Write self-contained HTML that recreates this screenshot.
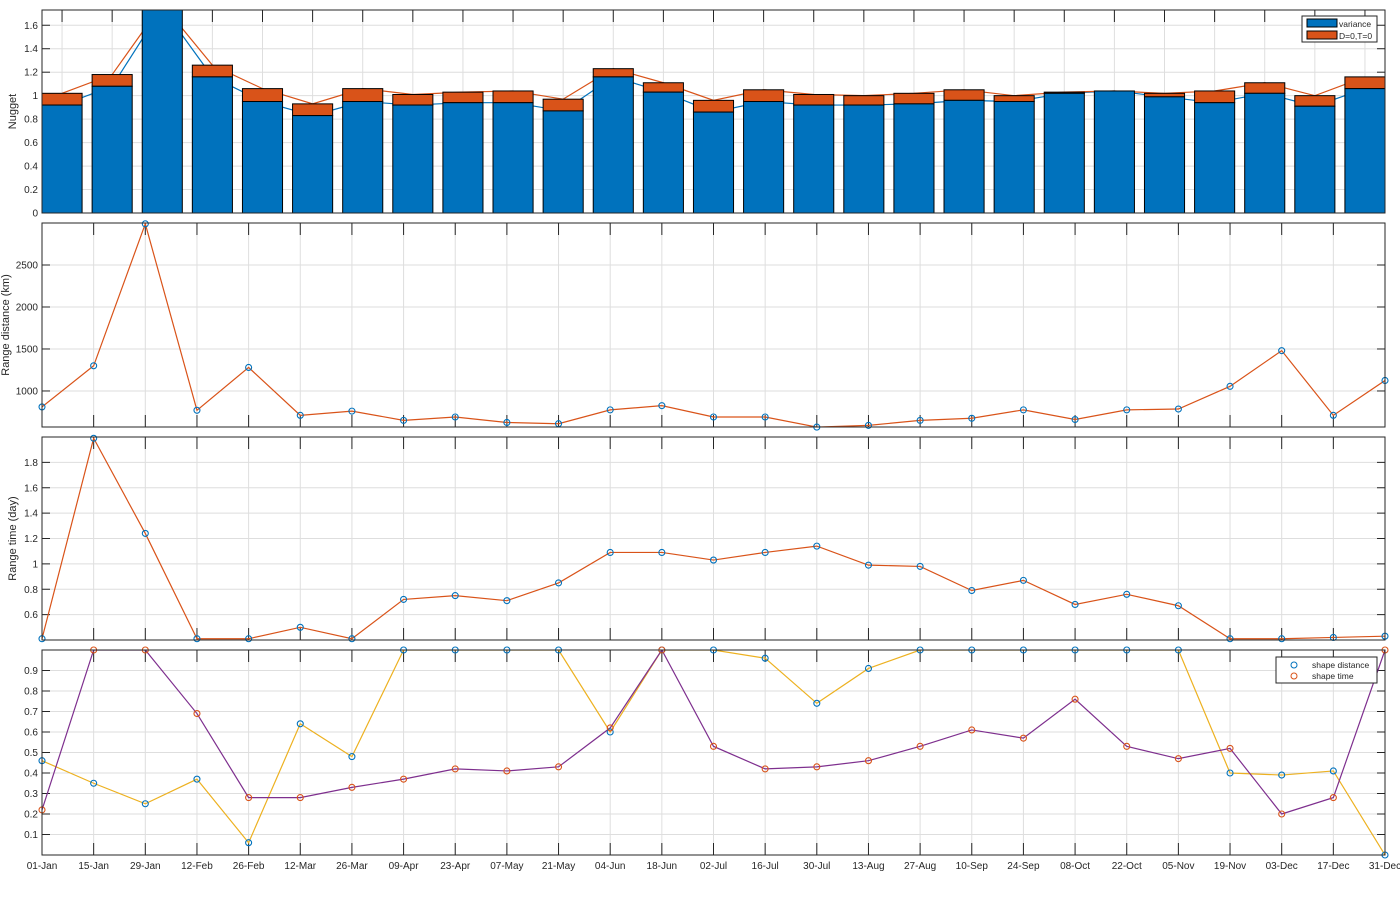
<!DOCTYPE html>
<html><head><meta charset="utf-8"><style>
body{margin:0;background:#fff;}
svg{display:block;font-family:"Liberation Sans",Arial,sans-serif;}
</style></head><body>
<svg id="c" width="1400" height="900" viewBox="0 0 1400 900" xmlns="http://www.w3.org/2000/svg"></svg>
<script>
const dates=["01-Jan","15-Jan","29-Jan","12-Feb","26-Feb","12-Mar","26-Mar","09-Apr","23-Apr","07-May","21-May","04-Jun","18-Jun","02-Jul","16-Jul","30-Jul","13-Aug","27-Aug","10-Sep","24-Sep","08-Oct","22-Oct","05-Nov","19-Nov","03-Dec","17-Dec","31-Dec"];
const variance=[0.92,1.08,1.75,1.16,0.95,0.83,0.95,0.92,0.94,0.94,0.87,1.16,1.03,0.86,0.95,0.92,0.92,0.93,0.96,0.95,1.02,1.04,0.99,0.94,1.02,0.91,1.06];
const nuggetTotal=[1.02,1.18,1.78,1.26,1.06,0.93,1.06,1.01,1.03,1.04,0.97,1.23,1.11,0.96,1.05,1.01,1.00,1.02,1.05,1.00,1.03,1.04,1.02,1.04,1.11,1.00,1.16];
const rangeDist=[810,1300,2990,770,1280,710,760,650,690,625,610,775,825,690,690,570,590,650,675,775,660,775,785,1055,1480,710,1125];
const rangeTime=[0.41,1.99,1.24,0.41,0.41,0.50,0.41,0.72,0.75,0.71,0.85,1.09,1.09,1.03,1.09,1.14,0.99,0.98,0.79,0.87,0.68,0.76,0.67,0.41,0.41,0.42,0.43];
const shapeDist=[0.46,0.35,0.25,0.37,0.06,0.64,0.48,1,1,1,1,0.60,1,1,0.96,0.74,0.91,1,1,1,1,1,1,0.40,0.39,0.41,0.0];
const shapeTime=[0.22,1,1,0.69,0.28,0.28,0.33,0.37,0.42,0.41,0.43,0.62,1,0.53,0.42,0.43,0.46,0.53,0.61,0.57,0.76,0.53,0.47,0.52,0.20,0.28,1];
const nugTicks=[0,0.2,0.4,0.6,0.8,1,1.2,1.4,1.6];
const distTicks=[1000,1500,2000,2500];
const timeTicks=[0.6,0.8,1,1.2,1.4,1.6,1.8];
const shapeTicks=[0.1,0.2,0.3,0.4,0.5,0.6,0.7,0.8,0.9];

const svg=document.getElementById('c');const NS="http://www.w3.org/2000/svg";
function mk(t,a,p){const e=document.createElementNS(NS,t);for(const k in a)e.setAttribute(k,a[k]);(p||svg).appendChild(e);return e;}
const L=42,R=1385;
const panels=[{t:10,b:213,y0:0,y1:1.73,tx:16},{t:223,b:427,y0:571,y1:3000,tx:9},{t:437,b:640,y0:0.4,y1:2.0,tx:16},{t:650,b:855,y0:0,y1:1.0,tx:16}];
const xd=i=>L+i*(R-L)/26;
const xb=i=>L+(i+1-0.6)*(R-L)/26.8;
function ys(p){return v=>p.b-(v-p.y0)/(p.y1-p.y0)*(p.b-p.t);}
function frame(p,ticks,fmt,xfun,label,name){
  const g=mk('g',{});
  const y=ys(p);
  const clipId='cl'+p.t;const cp=mk('clipPath',{id:clipId});mk('rect',{x:L,y:p.t,width:R-L,height:p.b-p.t},cp);
  for(let i=0;i<27;i++){const x=xfun(i);mk('line',{x1:x,x2:x,y1:p.t,y2:p.b,stroke:'#dedede','stroke-width':1},g);}
  ticks.forEach(v=>{const yy=y(v);mk('line',{x1:L,x2:R,y1:yy,y2:yy,stroke:'#dedede'},g);
    const t=mk('text',{x:L-4,y:yy+3.5,'text-anchor':'end','font-size':10,fill:'#262626'},g);t.textContent=fmt(v);
    mk('line',{x1:L,x2:L+8,y1:yy,y2:yy,stroke:'#262626'},g);mk('line',{x1:R-8,x2:R,y1:yy,y2:yy,stroke:'#262626'},g);});
  for(let i=0;i<27;i++){const x=xfun(i);mk('line',{x1:x,x2:x,y1:p.t,y2:p.t+12,stroke:'#262626'},g);mk('line',{x1:x,x2:x,y1:p.b-12,y2:p.b,stroke:'#262626'},g);}
  const yl=mk('text',{x:0,y:0,transform:`translate(${p.tx},${(p.t+p.b)/2}) rotate(-90)`,'text-anchor':'middle','font-size':11,fill:'#262626'},g);yl.textContent=label;
  
  return {g,y,clip:clipId};
}
function box(p,g){mk('rect',{x:L,y:p.t,width:R-L,height:p.b-p.t,fill:'none',stroke:'#262626','stroke-width':1},g);}
function line(vals,xf,y,col,g,clip){mk('polyline',{points:vals.map((v,i)=>xf(i)+','+y(v)).join(' '),fill:'none',stroke:col,'stroke-width':1.2,'clip-path':`url(#${clip})`},g);}
function marks(vals,xf,y,col,g,name){vals.forEach((v,i)=>{const c=mk('circle',{cx:xf(i),cy:y(v),r:3,fill:'none',stroke:col,'stroke-width':1.1},g);});}

// Panel 1
let f=frame(panels[0],nugTicks,v=>String(Math.round(v*10)/10),xb,'Nugget','nugget-panel');
line(variance,xb,f.y,'#0072BD',f.g,f.clip);line(nuggetTotal,xb,f.y,'#D95319',f.g,f.clip);
const bw=0.8*(R-L)/26.8;
const bg=mk('g',{'clip-path':`url(#${f.clip})`},f.g);
variance.forEach((v,i)=>{const x=xb(i)-bw/2;
  const r=mk('rect',{x:x,y:f.y(nuggetTotal[i]),width:bw,height:f.y(v)-f.y(nuggetTotal[i]),fill:'#D95319',stroke:'#000','stroke-width':1},bg);
  
  const b=mk('rect',{x:x,y:f.y(v),width:bw,height:f.y(0)-f.y(v),fill:'#0072BD',stroke:'#000','stroke-width':1},bg);
  });
box(panels[0],f.g);
const lg=mk('g',{});
mk('rect',{x:1302,y:16,width:75,height:26,fill:'#fff',stroke:'#262626'},lg);
mk('rect',{x:1307,y:19,width:30,height:8,fill:'#0072BD',stroke:'#000'},lg);
mk('rect',{x:1307,y:31,width:30,height:8,fill:'#D95319',stroke:'#000'},lg);
let t=mk('text',{x:1339,y:27,'font-size':8.5,fill:'#262626'},lg);t.textContent='variance';
t=mk('text',{x:1339,y:39,'font-size':8.5,fill:'#262626'},lg);t.textContent='D=0,T=0';

// Panel 2
f=frame(panels[1],distTicks,v=>String(v),xd,'Range distance (km)','range-distance-panel');
line(rangeDist,xd,f.y,'#D95319',f.g,f.clip);marks(rangeDist,xd,f.y,'#0072BD',f.g,'point-range-distance');box(panels[1],f.g);
// Panel 3
f=frame(panels[2],timeTicks,v=>String(Math.round(v*10)/10),xd,'Range time (day)','range-time-panel');
line(rangeTime,xd,f.y,'#D95319',f.g,f.clip);marks(rangeTime,xd,f.y,'#0072BD',f.g,'point-range-time');box(panels[2],f.g);
// Panel 4
f=frame(panels[3],shapeTicks,v=>String(Math.round(v*10)/10),xd,'','shape-panel');
line(shapeDist,xd,f.y,'#EDB120',f.g,f.clip);line(shapeTime,xd,f.y,'#7E2F8E',f.g,f.clip);
marks(shapeDist,xd,f.y,'#0072BD',f.g,'point-shape-distance');marks(shapeTime,xd,f.y,'#D95319',f.g,'point-shape-time');box(panels[3],f.g);
const lg2=mk('g',{});
mk('rect',{x:1276,y:657,width:101,height:26,fill:'#fff',stroke:'#262626'},lg2);
mk('circle',{cx:1294,cy:665,r:3,fill:'none',stroke:'#0072BD'},lg2);mk('circle',{cx:1294,cy:676,r:3,fill:'none',stroke:'#D95319'},lg2);
t=mk('text',{x:1312,y:668,'font-size':8.5,fill:'#262626'},lg2);t.textContent='shape distance';
t=mk('text',{x:1312,y:679,'font-size':8.5,fill:'#262626'},lg2);t.textContent='shape time';
// x tick labels
const xg=mk('g',{});
dates.forEach((d,i)=>{const tt=mk('text',{x:xd(i),y:869,'text-anchor':'middle','font-size':10,fill:'#262626'},xg);tt.textContent=d;});
</script>
</body></html>
